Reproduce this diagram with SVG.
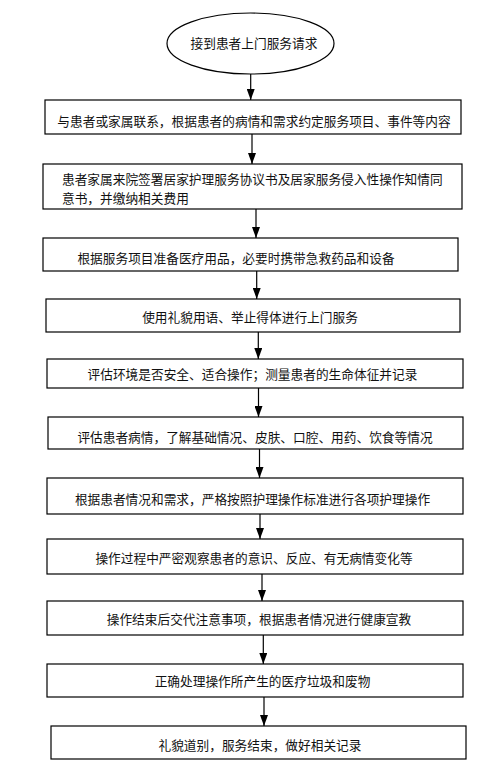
<svg xmlns="http://www.w3.org/2000/svg" width="499" height="776" viewBox="0 0 499 776">
<defs>
<style>
.box{fill:#fff;stroke:#000;stroke-width:1.2}
.t{font-family:"Noto Sans CJK SC","Noto Sans CJK JP",sans-serif;font-size:12.7px;fill:#111;text-anchor:middle}
.tl{font-family:"Noto Sans CJK SC","Noto Sans CJK JP",sans-serif;font-size:12.7px;fill:#111}
.c{stroke:#000;stroke-width:1.2;fill:none;marker-end:url(#ah)}
</style>
<marker id="ah" viewBox="0 0 11 8" refX="11" refY="4" markerWidth="11" markerHeight="8" markerUnits="userSpaceOnUse" orient="auto">
<path d="M0,0 L11,4 L0,8 z" fill="#000"/>
</marker>
</defs>
<rect width="499" height="776" fill="#fff"/>
<g id="connectors">
<line class="c" x1="250.7" y1="74" x2="250.7" y2="100"/>
<line class="c" x1="252" y1="134" x2="252" y2="164"/>
<line class="c" x1="256" y1="209" x2="256" y2="238"/>
<line class="c" x1="256.7" y1="271" x2="256.7" y2="299"/>
<line class="c" x1="258.3" y1="332" x2="258.3" y2="359"/>
<line class="c" x1="258.5" y1="388" x2="258.5" y2="417"/>
<line class="c" x1="259.5" y1="449" x2="259.5" y2="478"/>
<line class="c" x1="260" y1="514" x2="260" y2="539"/>
<line class="c" x1="262" y1="574" x2="262" y2="601"/>
<line class="c" x1="263.3" y1="635" x2="263.3" y2="664"/>
<line class="c" x1="264" y1="697" x2="264" y2="726"/>
</g>
<g id="n0">
<ellipse cx="250.5" cy="43.5" rx="83.5" ry="30.5" fill="#fff" stroke="#000" stroke-width="1.2"/>
<text class="t" x="254" y="48">接到患者上门服务请求</text>
</g>
<g id="n1">
<rect class="box" x="45" y="100" width="416" height="34"/>
<text class="t" x="254" y="125.5">与患者或家属联系，根据患者的病情和需求约定服务项目、事件等内容</text>
</g>
<g id="n2">
<rect class="box" x="43" y="164" width="419" height="45"/>
<text class="tl"><tspan x="62" y="184">患者家属来院签署居家护理服务协议书及居家服务侵入性操作知情同</tspan><tspan x="62" y="202.5">意书，并缴纳相关费用</tspan></text>
</g>
<g id="n3">
<rect class="box" x="43" y="238" width="415" height="33"/>
<text class="t" x="236" y="262.5">根据服务项目准备医疗用品，必要时携带急救药品和设备</text>
</g>
<g id="n4">
<rect class="box" x="46" y="299" width="414" height="33"/>
<text class="t" x="250" y="321.5">使用礼貌用语、举止得体进行上门服务</text>
</g>
<g id="n5">
<rect class="box" x="47" y="359" width="416" height="29"/>
<text class="t" x="252.5" y="378.5">评估环境是否安全、适合操作；测量患者的生命体征并记录</text>
</g>
<g id="n6">
<rect class="box" x="48" y="417" width="415" height="32"/>
<text class="t" x="255" y="441.5">评估患者病情，了解基础情况、皮肤、口腔、用药、饮食等情况</text>
</g>
<g id="n7">
<rect class="box" x="47" y="478" width="416" height="36"/>
<text class="t" x="252.5" y="503.5">根据患者情况和需求，严格按照护理操作标准进行各项护理操作</text>
</g>
<g id="n8">
<rect class="box" x="47" y="539" width="416" height="35"/>
<text class="t" x="254" y="562.5">操作过程中严密观察患者的意识、反应、有无病情变化等</text>
</g>
<g id="n9">
<rect class="box" x="47" y="601" width="416" height="34"/>
<text class="t" x="259" y="623.5">操作结束后交代注意事项，根据患者情况进行健康宣教</text>
</g>
<g id="n10">
<rect class="box" x="47" y="664" width="416" height="33"/>
<text class="t" x="262.5" y="685.5">正确处理操作所产生的医疗垃圾和废物</text>
</g>
<g id="n11">
<rect class="box" x="51" y="726" width="415" height="33"/>
<text class="t" x="260" y="749.5">礼貌道别，服务结束，做好相关记录</text>
</g>
</svg>
